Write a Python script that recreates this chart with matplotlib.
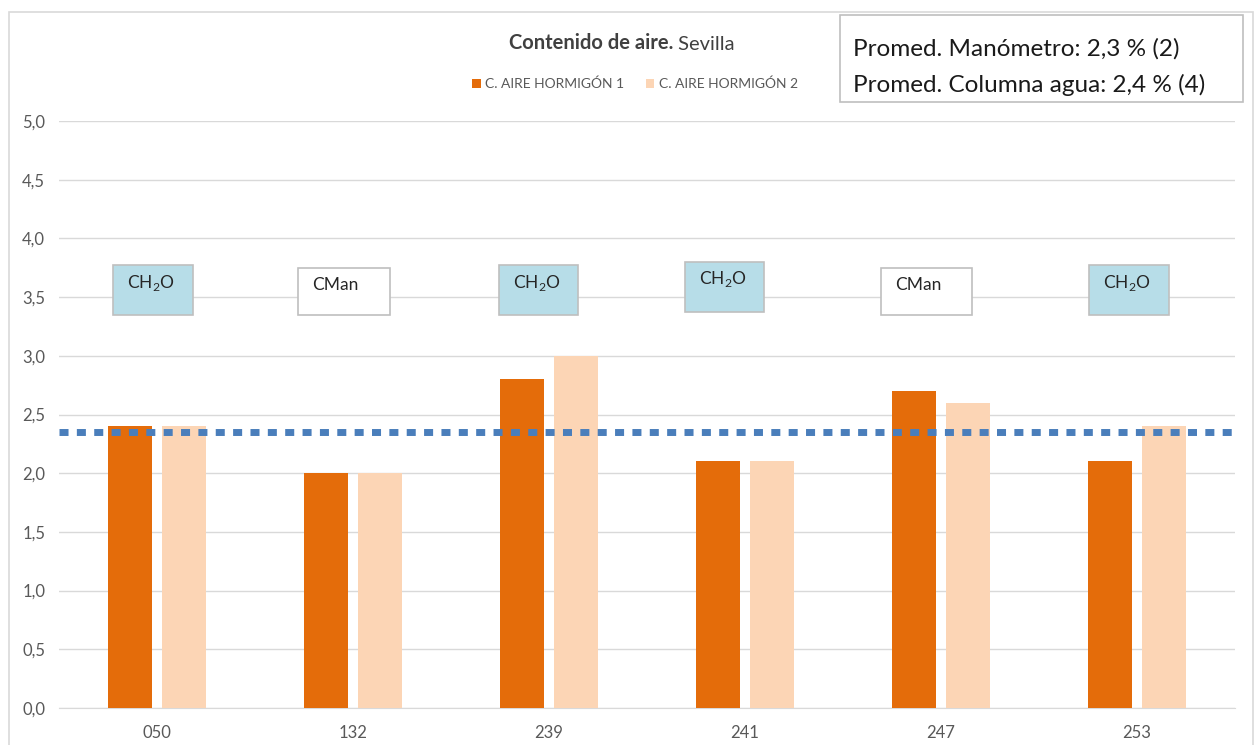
import matplotlib.pyplot as plt
import matplotlib.patches as mpatches
import numpy as np

# datos
muestras = ['050', '132', '239', '241', '247', '253']
aire_h1 = [2.4, 2.0, 2.8, 2.1, 2.7, 2.1]
aire_h2 = [2.4, 2.0, 3.0, 2.1, 2.6, 2.4]
media = 2.35
metodo = ['CH$_2$O', 'CMan', 'CH$_2$O', 'CH$_2$O', 'CMan', 'CH$_2$O']
resumen = ['Promed. Manómetro: 2,3 % (2)', 'Promed. Columna agua: 2,4 % (4)']

# cajas de método: (izquierda, abajo, ancho, alto) en unidades de datos
cajas = [(-0.224, 3.35, 0.408, 0.42), (-0.28, 3.35, 0.469, 0.40),
         (-0.255, 3.35, 0.403, 0.42), (-0.306, 3.37, 0.403, 0.43),
         (-0.306, 3.35, 0.464, 0.40), (-0.245, 3.35, 0.408, 0.42)]

naranja = '#E46C0A'
melocoton = '#FCD5B5'
gris_txt = '#595959'
gris_lin = '#D9D9D9'

plt.rcParams['font.family'] = ['Lato', 'DejaVu Sans']
plt.rcParams['mathtext.fontset'] = 'custom'
plt.rcParams['mathtext.rm'] = 'Lato'

W, H = 1255, 745
fig = plt.figure(figsize=(W / 100, H / 100), dpi=100)
ax = fig.add_axes([59 / W, 1 - 708 / H, 1176 / W, (708 - 121) / H])

x = np.arange(len(muestras))
ancho = 0.225
b1 = ax.bar(x - 0.14, aire_h1, ancho, color=naranja, zorder=3, label='C. AIRE HORMIGÓN 1')
b2 = ax.bar(x + 0.14, aire_h2, ancho, color=melocoton, zorder=3, label='C. AIRE HORMIGÓN 2')

ax.axhline(media, color='#4A7EBB', lw=5, linestyle=(0, (1.3, 1.2)),
           dash_capstyle='butt', zorder=4)

for i, (lab, (dx, y0, w, h)) in enumerate(zip(metodo, cajas)):
    fc = '#B7DDE8' if 'CH' in lab else 'white'
    ax.add_patch(mpatches.Rectangle((i + dx, y0), w, h, facecolor=fc,
                                    edgecolor='#BFBFBF', lw=1.2, zorder=5))
    ax.text(i + dx + 0.07, y0 + h - 0.15, lab, fontsize=12.5, color='#262626',
            va='center', ha='left', zorder=6)

ax.set_xlim(-0.5, len(muestras) - 0.5)
ax.set_ylim(0, 5)
ax.set_yticks(np.arange(0, 5.01, 0.5))
ax.set_yticklabels([f'{v:.1f}'.replace('.', ',') for v in np.arange(0, 5.01, 0.5)])
ax.set_xticks(x)
ax.set_xticklabels(muestras)
ax.tick_params(length=0, labelsize=12, labelcolor=gris_txt)
ax.tick_params(axis='y', pad=10)
ax.tick_params(axis='x', pad=12)
ax.grid(axis='y', color=gris_lin, lw=1, zorder=0)
for s in ['top', 'right', 'left']:
    ax.spines[s].set_visible(False)
ax.spines['bottom'].set_color(gris_lin)

# título
t = fig.text(509 / W, 1 - 43 / H, 'Contenido de aire.', fontsize=14.5,
             fontweight='bold', color='#404040', va='center', ha='left')
fig.canvas.draw()
ax.annotate(' Sevilla', xy=(1, 0), xycoords=t, va='bottom', ha='left',
            fontsize=14.5, color='#404040')

fig.legend(handles=[b1, b2], loc='center', bbox_to_anchor=(635 / W, 1 - 84 / H),
           ncol=2, frameon=False, fontsize=10, handlelength=0.6, handleheight=0.6,
           handletextpad=0.3, columnspacing=1.6, labelcolor=gris_txt)

# cuadro de resumen
fig.patches.append(mpatches.Rectangle((840 / W, 1 - 102 / H), 403 / W, 87 / H,
                                      transform=fig.transFigure, facecolor='white',
                                      edgecolor='#BFBFBF', lw=1.2))
fig.text(853 / W, 1 - 49 / H, resumen[0], fontsize=17.5, color='#1a1a1a', va='center')
fig.text(853 / W, 1 - 85 / H, resumen[1], fontsize=17.5, color='#1a1a1a', va='center')

# marco exterior
fig.patches.append(mpatches.Rectangle((9 / W, -0.05), 1244 / W, 1.05 - 12 / H,
                                      transform=fig.transFigure, fill=False,
                                      edgecolor='#D9D9D9', lw=1.2))

fig.savefig('out.png', dpi=100)
